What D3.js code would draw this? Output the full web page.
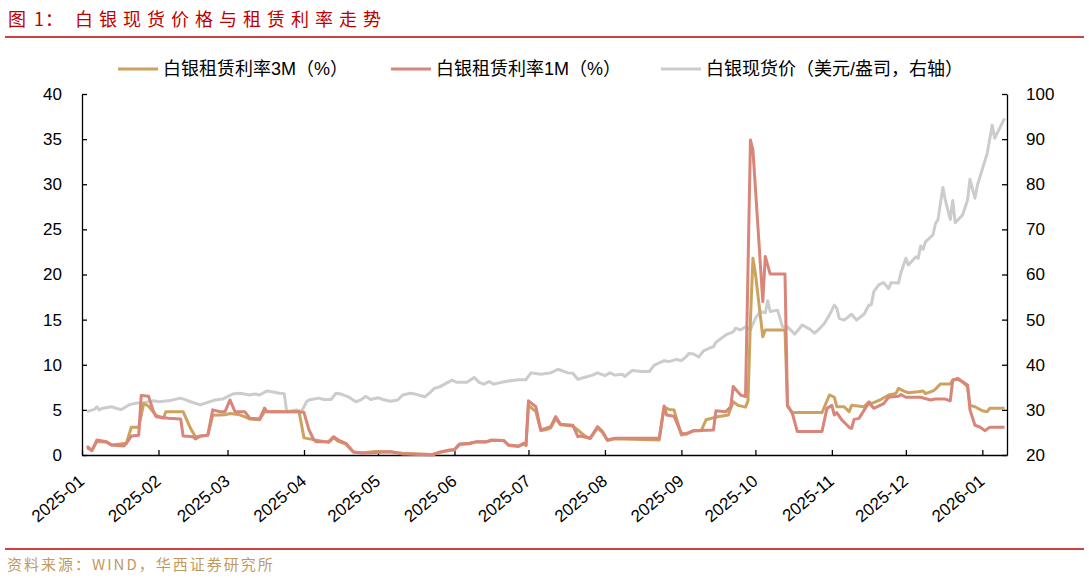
<!DOCTYPE html>
<html>
<head>
<meta charset="utf-8">
<script src="https://cdn.jsdelivr.net/npm/d3@7"></script>
<style>
  body { margin: 0; background: #fff; }
  svg { display: block; }
</style>
</head>
<body>
<script>
// DATA
var titlePrefix = ["图", "1", "："],
  titleText = "白银现货价格与租赁利率走势",
  sourceText = "资料来源：WIND，华西证券研究所",
  seriesNames = ["白银租赁利率3M（%）", "白银租赁利率1M（%）", "白银现货价（美元/盎司，右轴）"],
  leftTicks = [0, 5, 10, 15, 20, 25, 30, 35, 40],
  rightTicks = [20, 30, 40, 50, 60, 70, 80, 90, 100];

// 白银租赁利率3M
var rate3mDates = ["2025-01-03", "2025-01-05", "2025-01-07", "2025-01-11", "2025-01-13", "2025-01-19", "2025-01-21",
  "2025-01-24", "2025-01-26", "2025-01-28", "2025-01-31", "2025-02-03", "2025-02-04", "2025-02-11", "2025-02-14",
  "2025-02-16", "2025-02-21", "2025-02-23", "2025-02-28", "2025-03-02", "2025-03-06", "2025-03-10", "2025-03-14",
  "2025-03-16", "2025-03-30", "2025-04-01", "2025-04-06", "2025-04-11", "2025-04-13", "2025-04-15", "2025-04-18",
  "2025-04-21", "2025-04-25", "2025-04-30", "2025-05-06", "2025-05-11", "2025-05-18", "2025-05-23", "2025-05-26",
  "2025-05-30", "2025-06-01", "2025-06-03", "2025-06-07", "2025-06-10", "2025-06-14", "2025-06-16", "2025-06-21",
  "2025-06-23", "2025-06-27", "2025-06-29", "2025-06-30", "2025-07-01", "2025-07-04", "2025-07-06", "2025-07-08",
  "2025-07-10", "2025-07-12", "2025-07-14", "2025-07-19", "2025-07-21", "2025-07-24", "2025-07-26", "2025-07-29",
  "2025-07-31", "2025-08-02", "2025-08-05", "2025-08-23", "2025-08-25", "2025-08-27", "2025-08-29", "2025-09-01",
  "2025-09-06", "2025-09-09", "2025-09-11", "2025-09-15", "2025-09-20", "2025-09-22", "2025-09-24", "2025-09-27",
  "2025-09-28", "2025-09-29", "2025-09-30", "2025-10-01", "2025-10-04", "2025-10-05", "2025-10-13", "2025-10-14",
  "2025-10-16", "2025-10-28", "2025-10-31", "2025-11-02", "2025-11-03", "2025-11-06", "2025-11-08", "2025-11-09",
  "2025-11-14", "2025-11-16", "2025-11-17", "2025-11-21", "2025-11-24", "2025-11-27", "2025-11-28", "2025-11-30",
  "2025-12-02", "2025-12-06", "2025-12-08", "2025-12-09", "2025-12-12", "2025-12-13", "2025-12-15", "2025-12-19",
  "2025-12-20", "2025-12-22", "2025-12-24", "2025-12-26", "2025-12-27", "2025-12-29", "2026-01-01", "2026-01-03",
  "2026-01-04", "2026-01-10"];
var rate3mValues = [0.8, 0.5, 1.5, 1.4, 1.1, 1.3, 3.07,
  3.07, 5.7, 5.4, 4.4, 4.1, 4.8, 4.8, 2.95,
  2.03, 2.2, 4.4, 4.45, 4.6, 4.45, 4.0, 3.9,
  4.8, 4.8, 1.9, 1.65, 1.4, 1.9, 1.5, 1.2,
  0.3, 0.25, 0.4, 0.35, 0.2, 0.1, 0.05, 0.3,
  0.5, 0.55, 1.15, 1.25, 1.45, 1.45, 1.6, 1.6,
  1.05, 0.95, 1.2, 1.05, 5.5, 4.8, 2.7, 2.8,
  3.0, 4.0, 3.35, 3.2, 2.77, 2.1, 1.8, 3.0,
  2.5, 1.6, 1.8, 1.66, 5.3, 5.05, 5.0, 2.2,
  2.7, 2.7, 3.9, 4.2, 4.43, 5.9, 5.5, 5.3,
  6.0, 15.0, 21.8, 20.1, 13.1, 13.85, 13.85, 5.43,
  4.7, 4.7, 6.65, 6.4, 5.35, 5.35, 4.8, 5.5,
  5.35, 5.9, 5.7, 6.17, 6.65, 6.83, 7.38, 7.1,
  6.9, 7.0, 7.1, 6.8, 7.1, 7.3, 7.87, 7.87,
  8.3, 8.4, 8.1, 7.57, 5.5, 5.35, 4.9, 4.8,
  5.17, 5.17];

// 白银租赁利率1M
var rate1mDates = ["2025-01-03", "2025-01-05", "2025-01-07", "2025-01-11", "2025-01-13", "2025-01-18", "2025-01-19",
  "2025-01-21", "2025-01-24", "2025-01-25", "2025-01-28", "2025-01-30", "2025-01-31", "2025-02-05", "2025-02-10",
  "2025-02-11", "2025-02-15", "2025-02-16", "2025-02-18", "2025-02-21", "2025-02-23", "2025-02-26", "2025-02-28",
  "2025-03-02", "2025-03-04", "2025-03-08", "2025-03-10", "2025-03-14", "2025-03-16", "2025-03-17", "2025-03-30",
  "2025-04-01", "2025-04-03", "2025-04-05", "2025-04-06", "2025-04-11", "2025-04-13", "2025-04-15", "2025-04-18",
  "2025-04-21", "2025-04-25", "2025-04-30", "2025-05-06", "2025-05-11", "2025-05-18", "2025-05-23", "2025-05-26",
  "2025-05-30", "2025-06-01", "2025-06-03", "2025-06-07", "2025-06-10", "2025-06-14", "2025-06-16", "2025-06-21",
  "2025-06-23", "2025-06-27", "2025-06-29", "2025-06-30", "2025-07-01", "2025-07-04", "2025-07-06", "2025-07-08",
  "2025-07-10", "2025-07-12", "2025-07-14", "2025-07-19", "2025-07-21", "2025-07-22", "2025-07-26", "2025-07-29",
  "2025-07-31", "2025-08-02", "2025-08-05", "2025-08-23", "2025-08-25", "2025-08-26", "2025-08-29", "2025-09-01",
  "2025-09-03", "2025-09-06", "2025-09-14", "2025-09-15", "2025-09-19", "2025-09-21", "2025-09-22", "2025-09-25",
  "2025-09-27", "2025-09-29", "2025-09-30", "2025-10-04", "2025-10-05", "2025-10-07", "2025-10-13", "2025-10-14",
  "2025-10-16", "2025-10-18", "2025-10-28", "2025-10-30", "2025-11-01", "2025-11-02", "2025-11-03", "2025-11-05",
  "2025-11-08", "2025-11-09", "2025-11-10", "2025-11-12", "2025-11-16", "2025-11-18", "2025-11-22", "2025-11-24",
  "2025-11-28", "2025-11-29", "2025-12-01", "2025-12-07", "2025-12-11", "2025-12-13", "2025-12-17", "2025-12-19",
  "2025-12-20", "2025-12-22", "2025-12-24", "2025-12-26", "2025-12-27", "2025-12-29", "2025-12-31", "2026-01-02",
  "2026-01-04", "2026-01-10"];
var rate1mValues = [1.0, 0.48, 1.66, 1.48, 1.1, 1.0, 1.3,
  2.1, 2.2, 6.6, 6.5, 4.8, 4.25, 4.07, 4.0,
  2.1, 2.03, 1.77, 2.1, 2.2, 5.0, 4.8, 4.8,
  6.1, 4.8, 4.8, 4.07, 4.0, 5.2, 4.8, 4.8,
  4.7, 2.8, 1.66, 1.48, 1.48, 2.03, 1.66, 1.3,
  0.37, 0.18, 0.28, 0.37, 0.1, 0.05, 0.0, 0.3,
  0.55, 0.6, 1.22, 1.3, 1.48, 1.48, 1.66, 1.6,
  1.1, 1.0, 1.3, 1.1, 6.0, 5.35, 2.77, 2.95,
  3.14, 4.25, 3.4, 3.3, 2.03, 2.1, 1.85, 3.14,
  2.6, 1.66, 1.85, 1.85, 5.43, 4.43, 4.3, 2.4,
  2.3, 2.7, 2.77, 4.9, 4.8, 5.35, 7.6, 6.65,
  6.46, 34.9, 33.8, 17.0, 22.0, 20.05, 20.05, 5.5,
  4.6, 2.6, 2.6, 5.17, 5.5, 4.43, 4.7, 3.9,
  3.07, 2.95, 3.95, 4.06, 5.8, 5.17, 5.7, 6.4,
  6.5, 6.7, 6.4, 6.4, 6.1, 6.2, 6.2, 6.0,
  8.3, 8.5, 8.1, 7.76, 5.0, 3.3, 3.1, 2.7,
  3.07, 3.07];

// 白银现货价（右轴）
var priceDates = ["2025-01-03", "2025-01-06", "2025-01-07", "2025-01-08", "2025-01-09", "2025-01-13", "2025-01-15",
  "2025-01-17", "2025-01-20", "2025-01-23", "2025-01-26", "2025-01-30", "2025-02-01", "2025-02-05", "2025-02-10",
  "2025-02-12", "2025-02-14", "2025-02-18", "2025-02-20", "2025-02-24", "2025-02-27", "2025-03-03", "2025-03-06",
  "2025-03-10", "2025-03-12", "2025-03-14", "2025-03-17", "2025-03-19", "2025-03-22", "2025-03-24", "2025-03-25",
  "2025-03-27", "2025-03-29", "2025-03-31", "2025-04-02", "2025-04-03", "2025-04-07", "2025-04-09", "2025-04-12",
  "2025-04-14", "2025-04-16", "2025-04-19", "2025-04-22", "2025-04-24", "2025-04-26", "2025-04-28", "2025-05-01",
  "2025-05-03", "2025-05-06", "2025-05-09", "2025-05-11", "2025-05-14", "2025-05-16", "2025-05-20", "2025-05-22",
  "2025-05-24", "2025-05-26", "2025-05-28", "2025-05-31", "2025-06-02", "2025-06-06", "2025-06-09", "2025-06-11",
  "2025-06-13", "2025-06-15", "2025-06-17", "2025-06-20", "2025-06-23", "2025-06-27", "2025-06-30", "2025-07-02",
  "2025-07-06", "2025-07-10", "2025-07-13", "2025-07-17", "2025-07-19", "2025-07-21", "2025-07-25", "2025-07-27",
  "2025-07-29", "2025-08-01", "2025-08-03", "2025-08-05", "2025-08-08", "2025-08-09", "2025-08-12", "2025-08-16",
  "2025-08-19", "2025-08-21", "2025-08-25", "2025-08-27", "2025-08-30", "2025-09-01", "2025-09-03", "2025-09-04",
  "2025-09-06", "2025-09-08", "2025-09-10", "2025-09-12", "2025-09-14", "2025-09-15", "2025-09-19", "2025-09-22",
  "2025-09-23", "2025-09-25", "2025-09-27", "2025-09-29", "2025-10-01", "2025-10-03", "2025-10-05", "2025-10-06",
  "2025-10-07", "2025-10-10", "2025-10-12", "2025-10-14", "2025-10-17", "2025-10-20", "2025-10-23", "2025-10-25",
  "2025-10-27", "2025-10-29", "2025-10-31", "2025-11-02", "2025-11-03", "2025-11-04", "2025-11-06", "2025-11-09",
  "2025-11-11", "2025-11-14", "2025-11-16", "2025-11-17", "2025-11-18", "2025-11-20", "2025-11-22", "2025-11-24",
  "2025-11-25", "2025-11-28", "2025-11-29", "2025-12-01", "2025-12-02", "2025-12-05", "2025-12-06", "2025-12-07",
  "2025-12-08", "2025-12-09", "2025-12-12", "2025-12-13", "2025-12-14", "2025-12-16", "2025-12-17", "2025-12-19",
  "2025-12-20", "2025-12-21", "2025-12-24", "2025-12-26", "2025-12-27", "2025-12-29", "2025-12-30", "2026-01-03",
  "2026-01-05", "2026-01-06", "2026-01-10"];
var priceValues = [29.6, 30.1, 30.7, 30.0, 30.3, 30.7, 30.3,
  30.1, 31.1, 31.5, 31.6, 32.0, 31.8, 32.0, 32.6,
  32.2, 31.8, 31.1, 31.5, 32.2, 32.4, 33.5, 33.7,
  33.3, 33.5, 33.3, 34.2, 34.0, 33.7, 33.6, 29.6,
  29.8, 30.0, 29.6, 31.8, 32.2, 32.6, 32.3, 32.3,
  33.7, 33.5, 32.9, 31.8, 32.2, 33.0, 32.3, 32.7,
  32.3, 31.9, 32.2, 33.3, 33.7, 33.5, 32.9, 33.8,
  34.8, 35.1, 35.7, 36.6, 36.1, 36.1, 37.2, 36.1,
  35.7, 36.3, 35.7, 36.1, 36.4, 36.7, 36.7, 38.2,
  37.9, 38.2, 39.0, 38.2, 38.1, 36.8, 37.4, 37.7,
  38.2, 37.6, 38.2, 37.7, 37.9, 37.4, 38.7, 38.5,
  38.5, 39.9, 40.9, 40.7, 41.2, 40.9, 41.8, 42.5,
  42.4, 41.7, 43.1, 43.6, 44.0, 45.0, 46.6, 47.3,
  48.1, 47.7, 48.4, 47.7, 50.3, 51.8, 51.5, 54.2,
  51.8, 52.1, 48.4, 48.4, 46.8, 48.8, 47.9, 47.0,
  48.0, 49.2, 51.0, 53.2, 52.5, 50.3, 49.9, 51.2,
  49.9, 51.2, 53.2, 53.3, 56.2, 57.7, 58.2, 56.9,
  58.2, 58.1, 60.4, 63.6, 62.1, 63.9, 63.6, 66.3,
  65.6, 67.3, 68.8, 71.3, 72.1, 79.3, 76.5, 72.2,
  76.4, 71.5, 73.2, 76.5, 81.1, 76.9, 79.8, 86.9,
  93.1, 90.2, 94.6];

// INPUTS
var width = 1089,
  height = 578,
  plot = { left: 82, right: 1007, top: 94, bottom: 455 },
  colors = ["#CCA35E", "#D9857A", "#CCCCCC"],
  latin = "'Liberation Sans', Arial, 'Noto Sans CJK SC', sans-serif",
  cjk = "'Noto Sans CJK SC', 'Liberation Sans', sans-serif";

var parse = d3.timeParse("%Y-%m-%d");

function zip(dates, values) {
  return dates.map(function (d, i) {
    return { date: parse(d), value: values[i] };
  });
}
var rate3m = zip(rate3mDates, rate3mValues),
  rate1m = zip(rate1mDates, rate1mValues),
  price = zip(priceDates, priceValues);

var svg = d3.select("body").append("svg")
  .attr("width", width)
  .attr("height", height);

svg.append("rect").attr("width", width).attr("height", height).attr("fill", "#fff");

// scales
var x = d3.scaleTime()
  .domain([parse("2025-01-01"), parse("2026-01-11")])
  .range([plot.left, plot.right]);
var y = d3.scaleLinear().domain([0, 40]).range([plot.bottom, plot.top]);
var y2 = d3.scaleLinear().domain([20, 100]).range([plot.bottom, plot.top]);

// title + rules
var title = svg.append("text")
  .attr("y", 18)
  .attr("dominant-baseline", "central")
  .style("font-family", cjk)
  .style("font-size", "18px")
  .attr("fill", "#C00000");

var prefixX = [8, 34, 45];
titlePrefix.forEach(function (t, i) {
  title.append("tspan").attr("x", prefixX[i]).text(t);
});
title.append("tspan")
  .attr("x", 75)
  .style("letter-spacing", "6px")
  .text(titleText);

svg.append("line")
  .attr("x1", 5).attr("x2", 1084).attr("y1", 37).attr("y2", 37)
  .attr("stroke", "#C00000").attr("stroke-width", 1.5);

svg.append("line")
  .attr("x1", 5).attr("x2", 1084).attr("y1", 549).attr("y2", 549)
  .attr("stroke", "#C00000").attr("stroke-width", 1.5);

svg.append("text")
  .attr("x", 7).attr("y", 563)
  .attr("dominant-baseline", "central")
  .style("font-family", cjk)
  .style("font-size", "15px")
  .style("letter-spacing", "2px")
  .attr("fill", "#BF9A5E")
  .text(sourceText);

// legend
var legendX = [118, 391, 661];
var legend = svg.selectAll("g.legend")
  .data(seriesNames)
  .enter().append("g")
  .attr("class", "legend")
  .attr("transform", function (d, i) {
    return "translate(" + legendX[i] + ",69)";
  });

legend.append("line")
  .attr("x1", 0).attr("x2", 40)
  .attr("stroke", function (d, i) { return colors[i]; })
  .attr("stroke-width", 3);

legend.append("text")
  .attr("x", 45)
  .attr("dominant-baseline", "central")
  .style("font-family", latin)
  .style("font-size", "18px")
  .attr("fill", "#000")
  .text(function (d) { return d; });

// axes
var xAxis = d3.axisBottom(x)
  .ticks(d3.timeMonth.every(1))
  .tickFormat(d3.timeFormat("%Y-%m"))
  .tickSizeInner(-5)
  .tickSizeOuter(0);

var gx = svg.append("g")
  .attr("transform", "translate(0," + plot.bottom + ")")
  .call(xAxis);

gx.selectAll("text")
  .attr("y", 0).attr("dy", null)
  .attr("text-anchor", "end")
  .attr("transform", "translate(3,28) rotate(-40)")
  .style("font-family", latin)
  .style("font-size", "17px")
  .attr("fill", "#000");

var gy = svg.append("g")
  .attr("transform", "translate(" + plot.left + ",0)")
  .call(d3.axisLeft(y).tickValues(leftTicks).tickSizeInner(-5).tickSizeOuter(0).tickPadding(20));

var gy2 = svg.append("g")
  .attr("transform", "translate(" + plot.right + ",0)")
  .call(d3.axisRight(y2).tickValues(rightTicks).tickSizeInner(-5).tickSizeOuter(0).tickPadding(19));

[gy, gy2].forEach(function (g) {
  g.selectAll("text")
    .style("font-family", latin)
    .style("font-size", "17px")
    .attr("fill", "#000");
});

[gx, gy, gy2].forEach(function (g) {
  g.select(".domain").attr("stroke", "#000").attr("stroke-width", 1.3);
  g.selectAll(".tick line").attr("stroke", "#000").attr("stroke-width", 1.3);
});

// lines
var line1 = d3.line()
  .x(function (d) { return x(d.date); })
  .y(function (d) { return y(d.value); });
var line2 = d3.line()
  .x(function (d) { return x(d.date); })
  .y(function (d) { return y2(d.value); });

var lines = svg.append("g")
  .attr("fill", "none")
  .attr("stroke-width", 3)
  .attr("stroke-linejoin", "round");

lines.append("path").datum(price).attr("stroke", colors[2]).attr("d", line2);
lines.append("path").datum(rate3m).attr("stroke", colors[0]).attr("d", line1);
lines.append("path").datum(rate1m).attr("stroke", colors[1]).attr("d", line1);
</script>
</body>
</html>
